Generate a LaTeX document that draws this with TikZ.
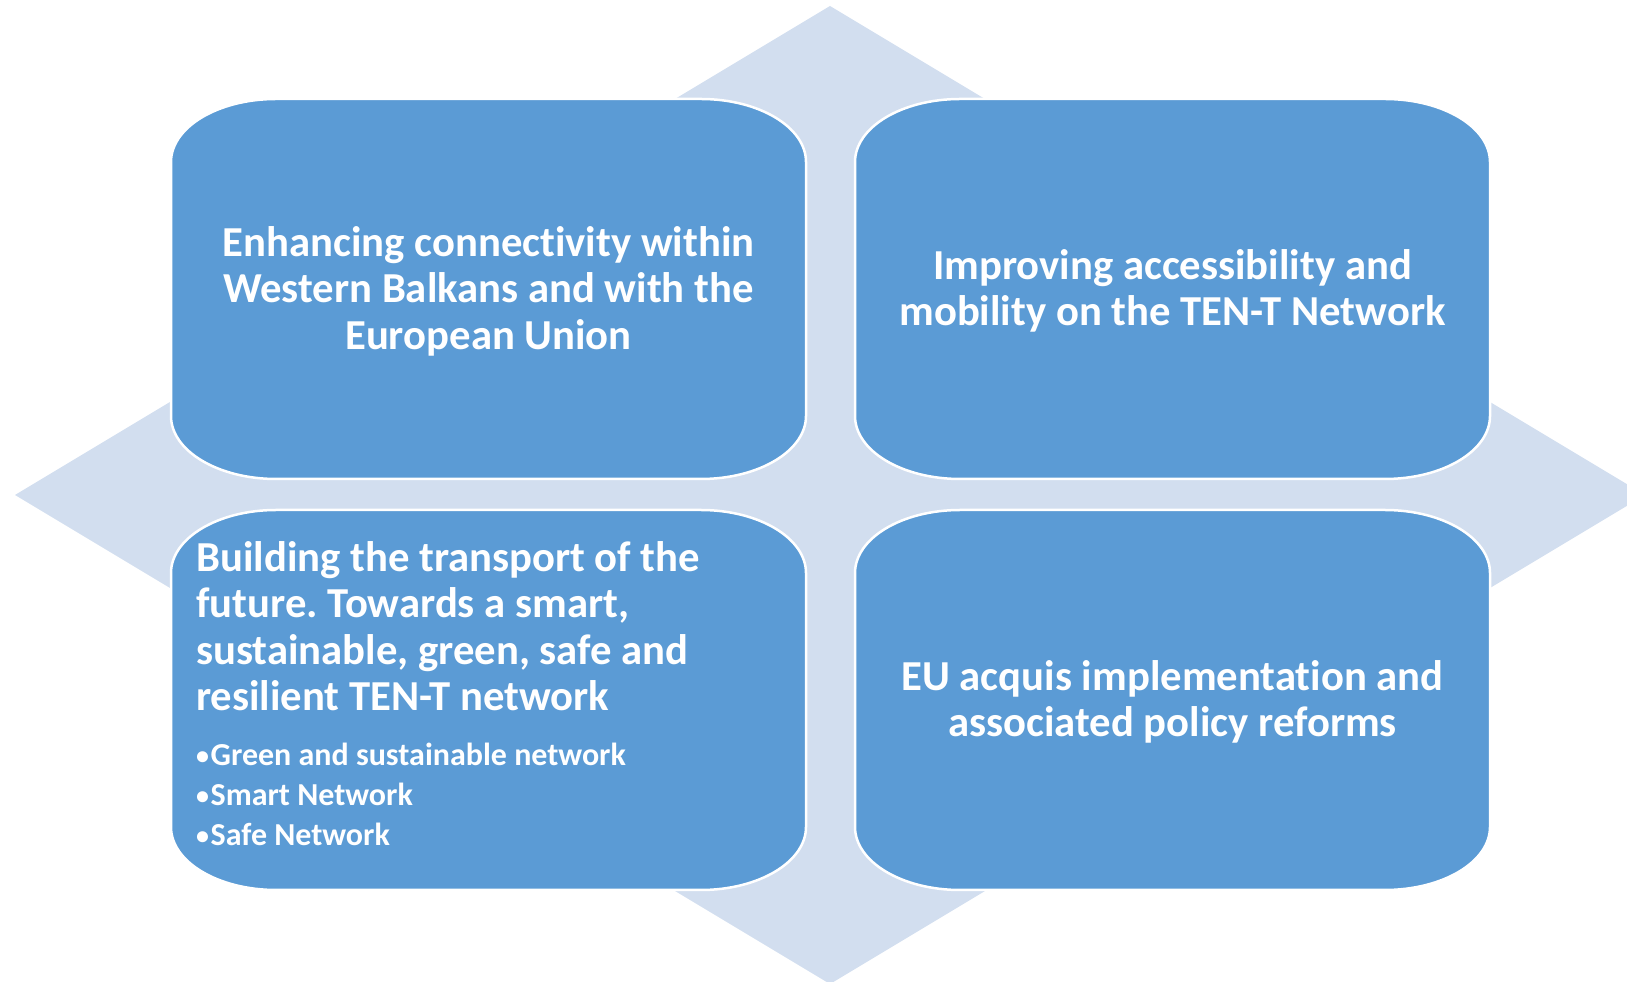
\documentclass[tikz,border=0pt]{standalone}
\usepackage{fontspec}
\setmainfont{Carlito}[Ligatures=NoCommon]
\usepackage{tikz}
\usetikzlibrary{positioning,calc}
\definecolor{boxblue}{HTML}{5B9BD5}
\definecolor{paleblue}{HTML}{D2DEEF}
\newcommand\dotitem{\raisebox{1.5pt}{\fontsize{26}{26}\selectfont•}\kern1.5pt}
\tikzset{
  rhomb/.style={fill=paleblue},
  quad/.style={fill=boxblue,draw=white,line width=2.5pt},
  bigtxt/.style={text=white,inner sep=0pt,align=center,yshift=-2pt,font=\fontsize{42.7}{46.5}\selectfont\bfseries},
  smalltxt/.style={text=white,inner sep=0pt,align=left,font=\fontsize{32}{40}\selectfont\bfseries}
}

\begin{document}
\frenchspacing
\begin{tikzpicture}[x=1pt,y=1pt]
\useasboundingbox (0,0) rectangle (1627,982);
\coordinate (N) at (830,976);
\coordinate (W) at (15,487);
\coordinate (S) at (830,-2);
\coordinate (E) at (1645,487);
\begin{scope}
\clip (0,0) rectangle (1627,982);
\fill[rhomb] (N) -- (E) -- (S) -- (W) -- cycle;
\end{scope}
\coordinate (tl) at (488.5,693);
\coordinate (tr) at (1172.5,693);
\coordinate (bl) at (488.5,282);
\coordinate (br) at (1172.5,282);
\foreach \b in {tl,tr,bl,br}
  \draw[quad] ([shift={(-212.5,190)}]\b) -- ++(425,0)
    arc[start angle=90,end angle=0,x radius=105,y radius=63] -- ++(0,-254)
    arc[start angle=0,end angle=-90,x radius=105,y radius=63] -- ++(-425,0)
    arc[start angle=-90,end angle=-180,x radius=105,y radius=63] -- ++(0,254)
    arc[start angle=180,end angle=90,x radius=105,y radius=63] -- cycle;
\node[bigtxt] (tltext) at (tl) {Enhancing connectivity within\\Western Balkans and with the\\European Union};
\node[bigtxt] (trtext) at (tr) {Improving accessibility and\\mobility on the TEN-T Network};
\node[bigtxt] (brtext) at (br) {EU acquis implementation and\\associated policy reforms};
\node[bigtxt,align=left,anchor=north west] (bltext) at (196,443) {Building the transport of the\\future. Towards a smart,\\sustainable, green, safe and\\resilient TEN-T network};
\node[smalltxt,anchor=north west] (bllist) at (196,239) {\dotitem Green and sustainable network\\\dotitem Smart Network\\\dotitem Safe Network};
\end{tikzpicture}
\end{document}
